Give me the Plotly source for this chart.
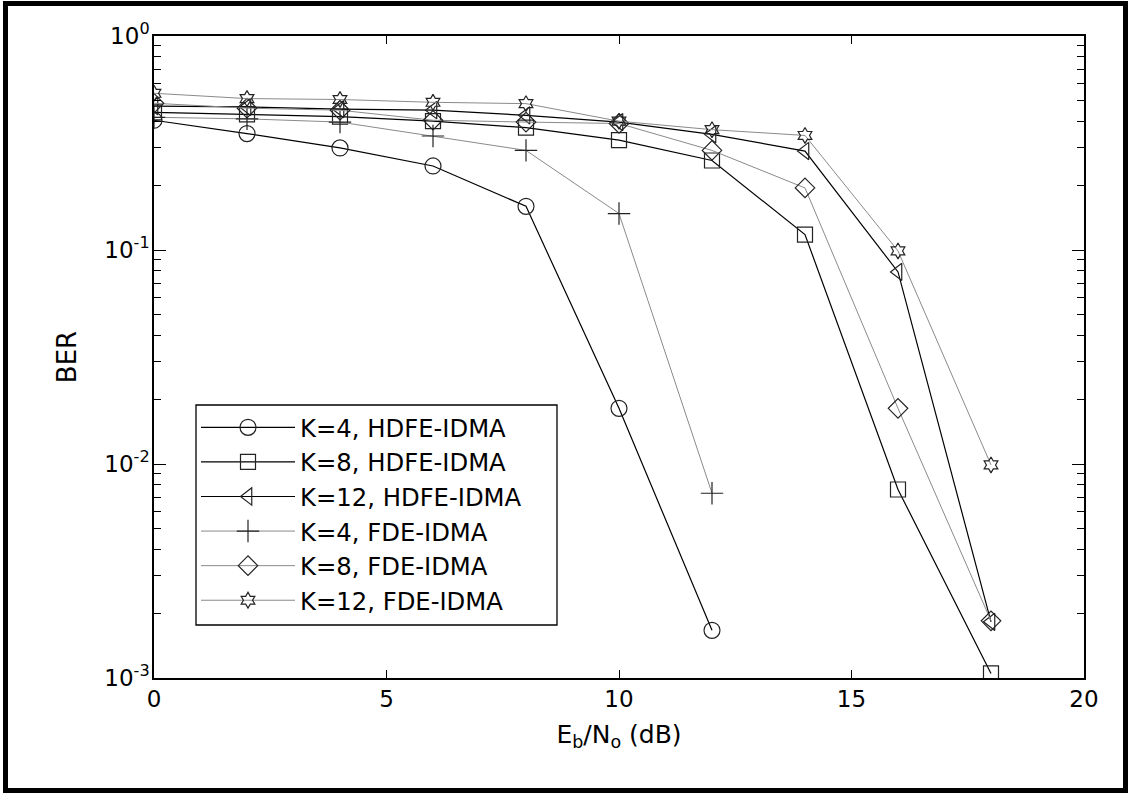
import plotly.graph_objects as go

snr = [0, 2, 4, 6, 8, 10, 12, 14, 16, 18]

k4_hdfe = [0.404, 0.35, 0.30, 0.247, 0.16, 0.0182, 0.00167]
k8_hdfe = [0.44, 0.43, 0.42, 0.40, 0.373, 0.326, 0.262, 0.118, 0.0076, 0.00105]
k12_hdfe = [0.47, 0.466, 0.455, 0.45, 0.426, 0.396, 0.347, 0.29, 0.079, 0.00183]
k4_fde = [0.417, 0.41, 0.396, 0.341, 0.292, 0.148, 0.0073]
k8_fde = [0.485, 0.46, 0.45, 0.404, 0.396, 0.39, 0.292, 0.195, 0.0182, 0.00185]
k12_fde = [0.54, 0.51, 0.505, 0.49, 0.483, 0.40, 0.365, 0.343, 0.099, 0.0099]

names = ["K=4, HDFE-IDMA", "K=8, HDFE-IDMA", "K=12, HDFE-IDMA",
         "K=4, FDE-IDMA", "K=8, FDE-IDMA", "K=12, FDE-IDMA"]
series = [k4_hdfe, k8_hdfe, k12_hdfe, k4_fde, k8_fde, k12_fde]
symbols = ["circle-open", "square-open", "triangle-left-open",
           "cross-thin-open", "diamond-open", "hexagram-open"]
sizes = [16, 15, 15, 16, 15, 12]
line_colors = ["#000000", "#000000", "#000000", "#8a8a8a", "#8a8a8a", "#8a8a8a"]
line_widths = [1.2, 1.2, 1.2, 1.0, 1.0, 1.0]

minor_y = [m * 10.0 ** e for e in (-3, -2, -1) for m in range(2, 10)]

fig = go.Figure()
for name, ys, sym, sz, lc, lw in zip(names, series, symbols, sizes, line_colors, line_widths):
    fig.add_trace(go.Scatter(
        x=snr[:len(ys)], y=ys, mode="lines+markers", name=name,
        line=dict(color=lc, width=lw),
        marker=dict(symbol=sym, size=sz, color="#222222",
                    line=dict(color="#222222", width=1.2)),
    ))

L, R, T, B = 154, 1084, 36, 678
W, H = 1128, 794

def px(x):
    return (x - L) / (R - L)

def py(y):
    return (B - y) / (B - T)

FONT = "DejaVu Sans, Liberation Sans, Arial, sans-serif"

fig.update_layout(
    width=W, height=H,
    margin=dict(l=L, r=W - R, t=T, b=H - B),
    paper_bgcolor="white", plot_bgcolor="white",
    font=dict(family=FONT, size=23, color="black"),
    showlegend=True,
    legend=dict(
        x=px(196), y=py(405), xanchor="left", yanchor="top",
        bgcolor="rgba(0,0,0,0)", borderwidth=0,
        font=dict(size=24.3), itemwidth=94, tracegroupgap=0,
    ),
    xaxis=dict(
        range=[0, 20], tickvals=[0, 5, 10, 15, 20],
        ticks="inside", ticklen=8, tickwidth=1.2, tickcolor="black",
        showline=True, linecolor="black", linewidth=1.5, mirror="ticks",
        showgrid=False, zeroline=False,
        ticklabelstandoff=0,
        title=dict(text="E<sub>b</sub>/N<sub>o</sub> (dB)", standoff=14,
                   font=dict(size=25)),
        tickfont=dict(size=23),
    ),
    yaxis=dict(
        type="log", range=[-3, 0],
        tickvals=[1e-3, 1e-2, 1e-1, 1],
        ticktext=["10<sup>-3</sup>", "10<sup>-2</sup>", "10<sup>-1</sup>", "10<sup>0</sup>"],
        ticks="inside", ticklen=12, tickwidth=1.2, tickcolor="black",
        minor=dict(ticks="inside", ticklen=7, tickwidth=1.2, tickcolor="black",
                   tickmode="array", tickvals=minor_y, showgrid=False),
        showline=True, linecolor="black", linewidth=1.5, mirror="ticks",
        showgrid=False, zeroline=False,
        ticklabelstandoff=-2,
        title=dict(text="BER", standoff=20, font=dict(size=26)),
        tickfont=dict(size=23),
    ),
    shapes=[
        dict(type="rect", xref="paper", yref="paper",
             x0=px(196), x1=px(557), y0=py(625), y1=py(405),
             line=dict(color="black", width=1.3), fillcolor="white",
             layer="above"),
        dict(type="rect", xref="paper", yref="paper",
             x0=px(5.5), x1=px(1125.5), y0=py(790.5), y1=py(3.5),
             line=dict(color="black", width=5), fillcolor="rgba(0,0,0,0)",
             layer="above"),
    ],
)

fig.write_html(
    "out.html",
    config={"displayModeBar": False},
    post_script="document.body.style.margin='0';document.body.style.overflow='hidden';",
)
